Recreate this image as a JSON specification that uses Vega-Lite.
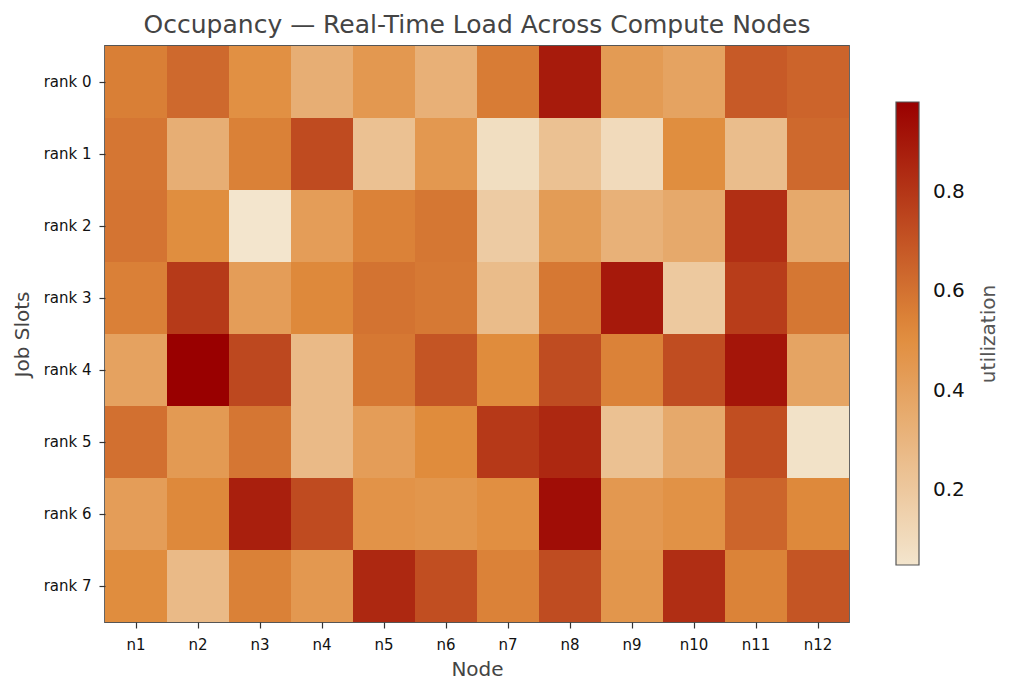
{
  "$schema": "https://vega.github.io/schema/vega-lite/v6.json",
  "description": "Heatmap of job slot utilization across compute nodes",
  "autosize": "none",
  "width": 744,
  "height": 576,
  "padding": {"left": 105, "top": 46, "right": 160, "bottom": 74},
  "background": "white",
  "title": {
    "text": "Occupancy — Real-Time Load Across Compute Nodes",
    "font": "DejaVu Sans",
    "fontSize": 25,
    "fontWeight": "normal",
    "color": "#444444",
    "anchor": "middle",
    "offset": 8
  },
  "config": {
    "font": "DejaVu Sans",
    "view": {"stroke": "#555555", "strokeWidth": 1.8},
    "axis": {
      "domain": false,
      "grid": false,
      "ticks": true,
      "tickColor": "#333333",
      "tickSize": 6,
      "tickWidth": 1.2,
      "labelFont": "DejaVu Sans",
      "labelFontSize": 15,
      "labelColor": "#111111",
      "titleFont": "DejaVu Sans",
      "titleFontSize": 20,
      "titleFontWeight": "normal",
      "titleColor": "#444444"
    }
  },
  "data": {
    "values": [
      {"rank": "rank 0", "node": "n1", "utilization": 0.558},
      {"rank": "rank 0", "node": "n2", "utilization": 0.631},
      {"rank": "rank 0", "node": "n3", "utilization": 0.494},
      {"rank": "rank 0", "node": "n4", "utilization": 0.337},
      {"rank": "rank 0", "node": "n5", "utilization": 0.452},
      {"rank": "rank 0", "node": "n6", "utilization": 0.327},
      {"rank": "rank 0", "node": "n7", "utilization": 0.568},
      {"rank": "rank 0", "node": "n8", "utilization": 0.890},
      {"rank": "rank 0", "node": "n9", "utilization": 0.437},
      {"rank": "rank 0", "node": "n10", "utilization": 0.395},
      {"rank": "rank 0", "node": "n11", "utilization": 0.681},
      {"rank": "rank 0", "node": "n12", "utilization": 0.648},
      {"rank": "rank 1", "node": "n1", "utilization": 0.588},
      {"rank": "rank 1", "node": "n2", "utilization": 0.337},
      {"rank": "rank 1", "node": "n3", "utilization": 0.552},
      {"rank": "rank 1", "node": "n4", "utilization": 0.731},
      {"rank": "rank 1", "node": "n5", "utilization": 0.238},
      {"rank": "rank 1", "node": "n6", "utilization": 0.452},
      {"rank": "rank 1", "node": "n7", "utilization": 0.087},
      {"rank": "rank 1", "node": "n8", "utilization": 0.238},
      {"rank": "rank 1", "node": "n9", "utilization": 0.107},
      {"rank": "rank 1", "node": "n10", "utilization": 0.505},
      {"rank": "rank 1", "node": "n11", "utilization": 0.259},
      {"rank": "rank 1", "node": "n12", "utilization": 0.631},
      {"rank": "rank 2", "node": "n1", "utilization": 0.595},
      {"rank": "rank 2", "node": "n2", "utilization": 0.505},
      {"rank": "rank 2", "node": "n3", "utilization": 0.050},
      {"rank": "rank 2", "node": "n4", "utilization": 0.426},
      {"rank": "rank 2", "node": "n5", "utilization": 0.548},
      {"rank": "rank 2", "node": "n6", "utilization": 0.585},
      {"rank": "rank 2", "node": "n7", "utilization": 0.186},
      {"rank": "rank 2", "node": "n8", "utilization": 0.431},
      {"rank": "rank 2", "node": "n9", "utilization": 0.322},
      {"rank": "rank 2", "node": "n10", "utilization": 0.364},
      {"rank": "rank 2", "node": "n11", "utilization": 0.824},
      {"rank": "rank 2", "node": "n12", "utilization": 0.364},
      {"rank": "rank 3", "node": "n1", "utilization": 0.555},
      {"rank": "rank 3", "node": "n2", "utilization": 0.787},
      {"rank": "rank 3", "node": "n3", "utilization": 0.426},
      {"rank": "rank 3", "node": "n4", "utilization": 0.525},
      {"rank": "rank 3", "node": "n5", "utilization": 0.598},
      {"rank": "rank 3", "node": "n6", "utilization": 0.578},
      {"rank": "rank 3", "node": "n7", "utilization": 0.264},
      {"rank": "rank 3", "node": "n8", "utilization": 0.581},
      {"rank": "rank 3", "node": "n9", "utilization": 0.897},
      {"rank": "rank 3", "node": "n10", "utilization": 0.196},
      {"rank": "rank 3", "node": "n11", "utilization": 0.777},
      {"rank": "rank 3", "node": "n12", "utilization": 0.585},
      {"rank": "rank 4", "node": "n1", "utilization": 0.400},
      {"rank": "rank 4", "node": "n2", "utilization": 0.980},
      {"rank": "rank 4", "node": "n3", "utilization": 0.741},
      {"rank": "rank 4", "node": "n4", "utilization": 0.275},
      {"rank": "rank 4", "node": "n5", "utilization": 0.581},
      {"rank": "rank 4", "node": "n6", "utilization": 0.698},
      {"rank": "rank 4", "node": "n7", "utilization": 0.515},
      {"rank": "rank 4", "node": "n8", "utilization": 0.728},
      {"rank": "rank 4", "node": "n9", "utilization": 0.548},
      {"rank": "rank 4", "node": "n10", "utilization": 0.724},
      {"rank": "rank 4", "node": "n11", "utilization": 0.910},
      {"rank": "rank 4", "node": "n12", "utilization": 0.390},
      {"rank": "rank 5", "node": "n1", "utilization": 0.608},
      {"rank": "rank 5", "node": "n2", "utilization": 0.442},
      {"rank": "rank 5", "node": "n3", "utilization": 0.588},
      {"rank": "rank 5", "node": "n4", "utilization": 0.275},
      {"rank": "rank 5", "node": "n5", "utilization": 0.426},
      {"rank": "rank 5", "node": "n6", "utilization": 0.515},
      {"rank": "rank 5", "node": "n7", "utilization": 0.791},
      {"rank": "rank 5", "node": "n8", "utilization": 0.847},
      {"rank": "rank 5", "node": "n9", "utilization": 0.238},
      {"rank": "rank 5", "node": "n10", "utilization": 0.364},
      {"rank": "rank 5", "node": "n11", "utilization": 0.721},
      {"rank": "rank 5", "node": "n12", "utilization": 0.066},
      {"rank": "rank 6", "node": "n1", "utilization": 0.426},
      {"rank": "rank 6", "node": "n2", "utilization": 0.525},
      {"rank": "rank 6", "node": "n3", "utilization": 0.877},
      {"rank": "rank 6", "node": "n4", "utilization": 0.731},
      {"rank": "rank 6", "node": "n5", "utilization": 0.478},
      {"rank": "rank 6", "node": "n6", "utilization": 0.463},
      {"rank": "rank 6", "node": "n7", "utilization": 0.499},
      {"rank": "rank 6", "node": "n8", "utilization": 0.937},
      {"rank": "rank 6", "node": "n9", "utilization": 0.452},
      {"rank": "rank 6", "node": "n10", "utilization": 0.484},
      {"rank": "rank 6", "node": "n11", "utilization": 0.645},
      {"rank": "rank 6", "node": "n12", "utilization": 0.525},
      {"rank": "rank 7", "node": "n1", "utilization": 0.510},
      {"rank": "rank 7", "node": "n2", "utilization": 0.275},
      {"rank": "rank 7", "node": "n3", "utilization": 0.552},
      {"rank": "rank 7", "node": "n4", "utilization": 0.452},
      {"rank": "rank 7", "node": "n5", "utilization": 0.847},
      {"rank": "rank 7", "node": "n6", "utilization": 0.721},
      {"rank": "rank 7", "node": "n7", "utilization": 0.548},
      {"rank": "rank 7", "node": "n8", "utilization": 0.728},
      {"rank": "rank 7", "node": "n9", "utilization": 0.463},
      {"rank": "rank 7", "node": "n10", "utilization": 0.827},
      {"rank": "rank 7", "node": "n11", "utilization": 0.545},
      {"rank": "rank 7", "node": "n12", "utilization": 0.698}
    ]
  },
  "mark": {"type": "rect", "strokeWidth": 0},
  "encoding": {
    "x": {
      "field": "node",
      "type": "nominal",
      "sort": ["n1", "n2", "n3", "n4", "n5", "n6", "n7", "n8", "n9", "n10", "n11", "n12"],
      "scale": {"paddingInner": 0, "paddingOuter": 0},
      "title": "Node",
      "axis": {"labelAngle": 0, "labelPadding": 9, "titlePadding": 7}
    },
    "y": {
      "field": "rank",
      "type": "nominal",
      "scale": {"paddingInner": 0, "paddingOuter": 0},
      "title": "Job Slots",
      "axis": {"labelPadding": 8, "titlePadding": 11}
    },
    "color": {
      "field": "utilization",
      "type": "quantitative",
      "scale": {
        "domain": [0.05, 0.98],
        "range": ["#f3e5cd", "#e08c3c", "#990000"],
        "interpolate": "rgb"
      },
      "legend": {
        "orient": "none",
        "legendX": 791,
        "legendY": 56,
        "direction": "vertical",
        "padding": 0,
        "gradientLength": 463,
        "gradientThickness": 23,
        "gradientStrokeColor": "#555555",
        "gradientStrokeWidth": 1.2,
        "values": [0.2, 0.4, 0.6, 0.8],
        "format": ".1f",
        "labelFont": "DejaVu Sans",
        "labelFontSize": 20,
        "labelColor": "#111111",
        "labelOffset": 14,
        "title": "utilization",
        "titleFont": "DejaVu Sans",
        "titleFontSize": 20,
        "titleFontWeight": "normal",
        "titleColor": "#555555",
        "titleOrient": "right",
        "titleAnchor": "middle",
        "titleAlign": "center",
        "titleBaseline": "top",
        "titlePadding": 34,
        "encode": {
          "title": {"update": {"angle": {"value": 270}, "baseline": {"value": "bottom"}}}
        }
      }
    }
  }
}
